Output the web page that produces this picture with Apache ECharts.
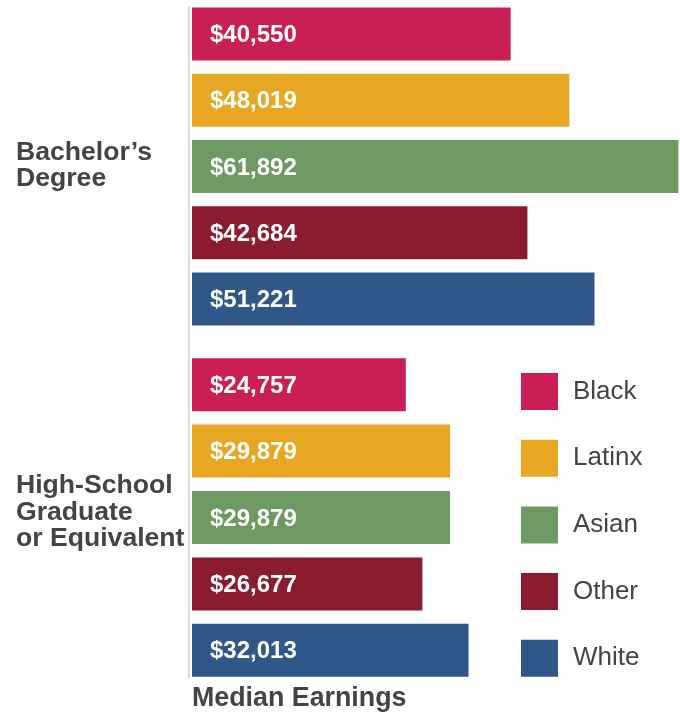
<!DOCTYPE html>
<html>
<head>
<meta charset="utf-8">
<script src="https://cdn.jsdelivr.net/npm/echarts@6/dist/echarts.min.js"></script>
<style>
html,body{margin:0;padding:0;background:#fff;}
#chart{width:680px;height:713px;}
</style>
</head>
<body>
<div id="chart"></div>
<script>
// ---- data ----
const races = ['Black', 'Latinx', 'Asian', 'Other', 'White'];
const raceColors = ['#C91F55', '#E6A823', '#6F9963', '#8B1C30', '#2F5788'];
const bachelors = [40550, 48019, 61892, 42684, 51221];
const highSchool = [24757, 29879, 29879, 26677, 32013];
const groupLabels = ['Bachelor\u2019s\nDegree', 'High-School\nGraduate\nor Equivalent'];
const axisTitle = 'Median Earnings';

const FONT = '"Liberation Sans", Arial, sans-serif';
const TXT = '#444444';

function fmt(v) { return '$' + Number(v).toLocaleString('en-US'); }

function makeSeries(values, gridIdx) {
  return races.map((r, i) => ({
    name: r,
    type: 'bar',
    xAxisIndex: gridIdx,
    yAxisIndex: gridIdx,
    stack: 'g' + gridIdx,
    barWidth: 53,
    itemStyle: { color: raceColors[i] },
    data: races.map((_, j) => (j === i ? values[i] : '-')),
    label: {
      show: true,
      position: 'insideLeft',
      distance: 18,
      offset: [0, 1.5],
      color: '#fff',
      fontFamily: FONT,
      fontWeight: 'bold',
      fontSize: 24,
      formatter: p => fmt(p.value)
    },
    emphasis: { disabled: true },
    silent: true
  }));
}

const chart = echarts.init(document.getElementById('chart'), null, { renderer: 'canvas' });

const hiddenCat = {
  type: 'category', data: races, inverse: true,
  axisLine: { show: false }, axisTick: { show: false }, axisLabel: { show: false }
};
const hiddenVal = (max) => ({
  type: 'value', min: 0, max: max, show: false,
  splitLine: { show: false }
});

chart.setOption({
  animation: false,
  backgroundColor: '#ffffff',
  grid: [
    { left: 192, width: 488, top: 1, height: 331 },
    { left: 192, width: 488, top: 351.5, height: 332 },
    { left: 188.5, width: 1, top: 7.5, height: 670 }
  ],
  xAxis: [
    Object.assign({ gridIndex: 0 }, hiddenVal(62100)),
    Object.assign({ gridIndex: 1 }, hiddenVal(56500)),
    Object.assign({ gridIndex: 2 }, hiddenVal(1))
  ],
  yAxis: [
    Object.assign({ gridIndex: 0 }, hiddenCat),
    Object.assign({ gridIndex: 1 }, hiddenCat),
    {
      gridIndex: 2, type: 'value', min: 0, max: 1,
      axisLine: { show: true, lineStyle: { color: '#d9d9d9', width: 2 } },
      axisTick: { show: false }, axisLabel: { show: false }, splitLine: { show: false }
    }
  ],
  legend: {
    orient: 'vertical',
    left: 521,
    top: 373,
    padding: 0,
    itemWidth: 37,
    itemHeight: 37,
    itemGap: 29.7,
    icon: 'rect',
    selectedMode: false,
    data: races,
    textStyle: {
      fontFamily: FONT, fontSize: 26, color: TXT,
      padding: [0, 0, 0, 10]
    }
  },
  graphic: [
    {
      type: 'text', silent: true,
      x: 16, y: 165.5,
      style: {
        text: groupLabels[0], fill: TXT, font: 'bold 26.6px ' + FONT,
        lineHeight: 26, textVerticalAlign: 'middle', textAlign: 'left'
      }
    },
    {
      type: 'text', silent: true,
      x: 16, y: 512.5,
      style: {
        text: groupLabels[1], fill: TXT, font: 'bold 26.6px ' + FONT,
        lineHeight: 26.5, textVerticalAlign: 'middle', textAlign: 'left'
      }
    },
    {
      type: 'text', silent: true,
      x: 192, y: 698.5,
      style: {
        text: axisTitle, fill: TXT, font: 'bold 26.8px ' + FONT,
        textVerticalAlign: 'middle', textAlign: 'left'
      }
    }
  ],
  series: makeSeries(bachelors, 0).concat(makeSeries(highSchool, 1))
});
</script>
</body>
</html>
